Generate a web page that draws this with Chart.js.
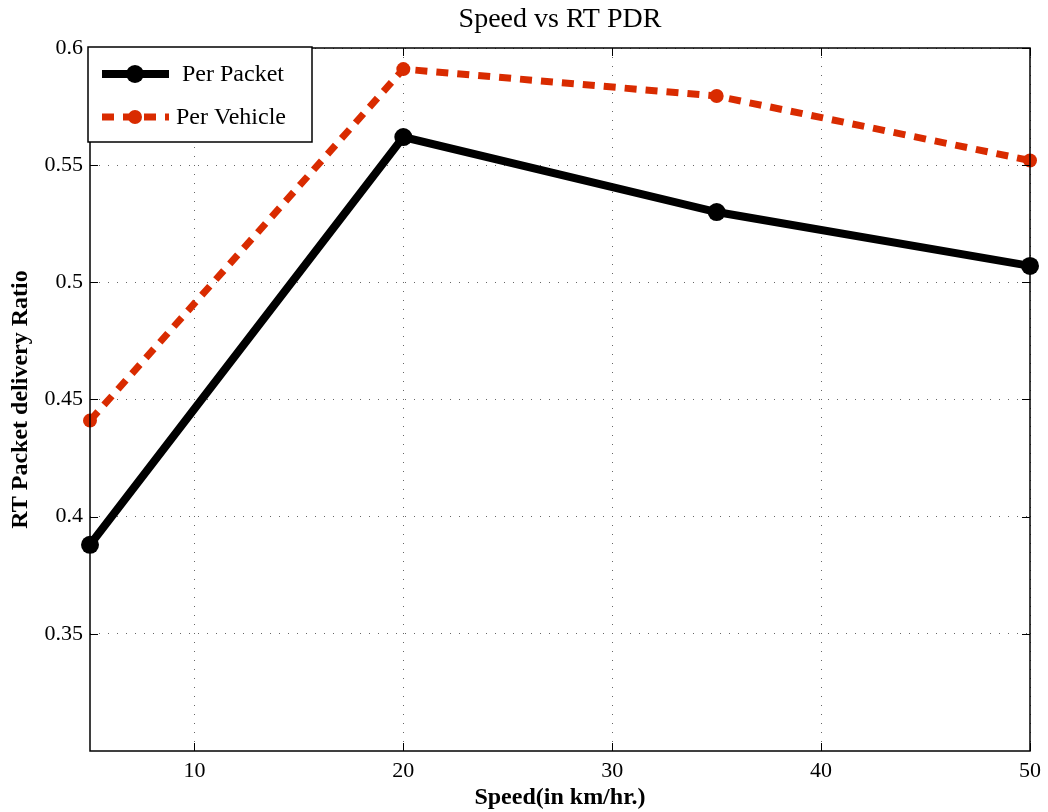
<!DOCTYPE html>
<html>
<head>
<meta charset="utf-8">
<script src="https://cdn.jsdelivr.net/npm/chart.js@4/dist/chart.umd.min.js"></script>
<style>
  html, body { margin: 0; padding: 0; background: #fff; }
  #wrap { width: 1048px; height: 812px; }
</style>
</head>
<body>
<div id="wrap"><canvas id="speedChart" width="1048" height="812"></canvas></div>
<script>
// data
const speeds = [5, 20, 35, 50];
const perPacket = [0.388, 0.562, 0.530, 0.507];
const perVehicle = [0.441, 0.591, 0.5795, 0.552];
const xTicks = [10, 20, 30, 40, 50];
const yTicks = [0.35, 0.4, 0.45, 0.5, 0.55, 0.6];
const chartTitle = 'Speed vs RT PDR';

const FONT = '"Liberation Serif", "Times New Roman", serif';
const RED = '#d92b00';

// title centred over the plot box (like MATLAB), not the whole canvas
const axesTitle = {
    id: 'axesTitle',
    afterDraw(chart) {
        const { ctx, chartArea: a } = chart;
        ctx.save();
        ctx.fillStyle = '#000';
        ctx.font = '28px ' + FONT;
        ctx.textAlign = 'center';
        ctx.textBaseline = 'middle';
        ctx.fillText(chartTitle, (a.left + a.right) / 2, 20);
        ctx.restore();
    }
};

// MATLAB style: inward ticks on all four sides
const innerTicks = {
    id: 'innerTicks',
    afterDatasetsDraw(chart) {
        const { ctx, chartArea: a, scales: { x, y } } = chart;
        const len = 8;
        ctx.save();
        ctx.strokeStyle = '#000';
        ctx.lineWidth = 1;
        ctx.beginPath();
        xTicks.forEach(v => {
            const px = Math.round(x.getPixelForValue(v)) + 0.5;
            ctx.moveTo(px, a.bottom); ctx.lineTo(px, a.bottom - len);
            ctx.moveTo(px, a.top); ctx.lineTo(px, a.top + len);
        });
        yTicks.forEach(v => {
            const py = Math.round(y.getPixelForValue(v)) + 0.5;
            ctx.moveTo(a.left, py); ctx.lineTo(a.left + len, py);
            ctx.moveTo(a.right, py); ctx.lineTo(a.right - len, py);
        });
        ctx.stroke();
        // box
        ctx.lineWidth = 1.5;
        ctx.strokeRect(a.left, a.top, a.right - a.left, a.bottom - a.top);
        ctx.restore();
    }
};

// legend box in the top-left corner
const boxLegend = {
    id: 'boxLegend',
    afterDraw(chart) {
        const { ctx, chartArea: a } = chart;
        const x0 = a.left - 2, y0 = a.top - 1, w = 224, h = 95;
        ctx.save();
        ctx.fillStyle = '#fff';
        ctx.fillRect(x0, y0, w, h);
        ctx.strokeStyle = '#000';
        ctx.lineWidth = 1.5;
        ctx.strokeRect(x0, y0, w, h);

        chart.data.datasets.forEach((ds, i) => {
            const cy = y0 + 27 + i * 43;
            ctx.strokeStyle = ds.borderColor;
            ctx.lineWidth = ds.borderWidth;
            ctx.setLineDash(ds.borderDash || []);
            ctx.beginPath();
            ctx.moveTo(x0 + 14, cy);
            ctx.lineTo(x0 + 81, cy);
            ctx.stroke();
            ctx.setLineDash([]);
            ctx.fillStyle = ds.pointBackgroundColor;
            ctx.beginPath();
            ctx.arc(x0 + 47, cy, ds.pointRadius, 0, Math.PI * 2);
            ctx.fill();

            ctx.fillStyle = '#000';
            ctx.font = '24px ' + FONT;
            ctx.textBaseline = 'middle';
            ctx.fillText(ds.label, x0 + (i === 0 ? 94 : 88), cy + 1);
        });
        ctx.restore();
    }
};

new Chart(document.getElementById('speedChart'), {
    type: 'line',
    data: {
        datasets: [
            {
                label: 'Per Packet',
                data: speeds.map((s, i) => ({ x: s, y: perPacket[i] })),
                borderColor: '#000',
                backgroundColor: '#000',
                pointBackgroundColor: '#000',
                pointBorderColor: '#000',
                borderWidth: 8,
                pointRadius: 9,
                pointBorderWidth: 0,
                tension: 0,
                fill: false,
                clip: false
            },
            {
                label: 'Per Vehicle',
                data: speeds.map((s, i) => ({ x: s, y: perVehicle[i] })),
                borderColor: RED,
                backgroundColor: RED,
                pointBackgroundColor: RED,
                pointBorderColor: RED,
                borderWidth: 7,
                borderDash: [12, 9],
                pointRadius: 7,
                pointBorderWidth: 0,
                tension: 0,
                fill: false,
                clip: false
            }
        ]
    },
    options: {
        responsive: false,
        animation: false,
        devicePixelRatio: 1,
        layout: { padding: { left: 0, right: 18, top: 48, bottom: 0 } },
        scales: {
            x: {
                type: 'linear',
                min: 5,
                max: 50,
                afterBuildTicks: (s) => { s.ticks = xTicks.map(v => ({ value: v })); },
                afterFit: (s) => { s.height = 61; },
                ticks: {
                    color: '#000',
                    font: { family: FONT, size: 22 },
                    padding: 7,
                    maxRotation: 0
                },
                grid: { color: '#666', lineWidth: 1, drawTicks: false },
                border: { display: false, dash: [1, 8] },
                title: {
                    display: true,
                    text: 'Speed(in km/hr.)',
                    color: '#000',
                    font: { family: FONT, size: 24, weight: 'bold' },
                    padding: { top: 0, bottom: 0 }
                }
            },
            y: {
                min: 0.3,
                max: 0.6,
                afterBuildTicks: (s) => { s.ticks = yTicks.map(v => ({ value: v })); },
                afterFit: (s) => { s.width = 90; },
                ticks: {
                    color: '#000',
                    font: { family: FONT, size: 22 },
                    padding: 7,
                    callback: (v) => String(+v.toFixed(2))
                },
                grid: { color: '#666', lineWidth: 1, drawTicks: false },
                border: { display: false, dash: [1, 8] },
                title: {
                    display: true,
                    text: 'RT Packet delivery Ratio',
                    color: '#000',
                    font: { family: FONT, size: 24, weight: 'bold' },
                    padding: { top: 6, bottom: 0 }
                }
            }
        },
        plugins: {
            legend: { display: false },
            tooltip: { enabled: false },
            title: { display: false }
        }
    },
    plugins: [innerTicks, boxLegend, axesTitle]
});
</script>
</body>
</html>
